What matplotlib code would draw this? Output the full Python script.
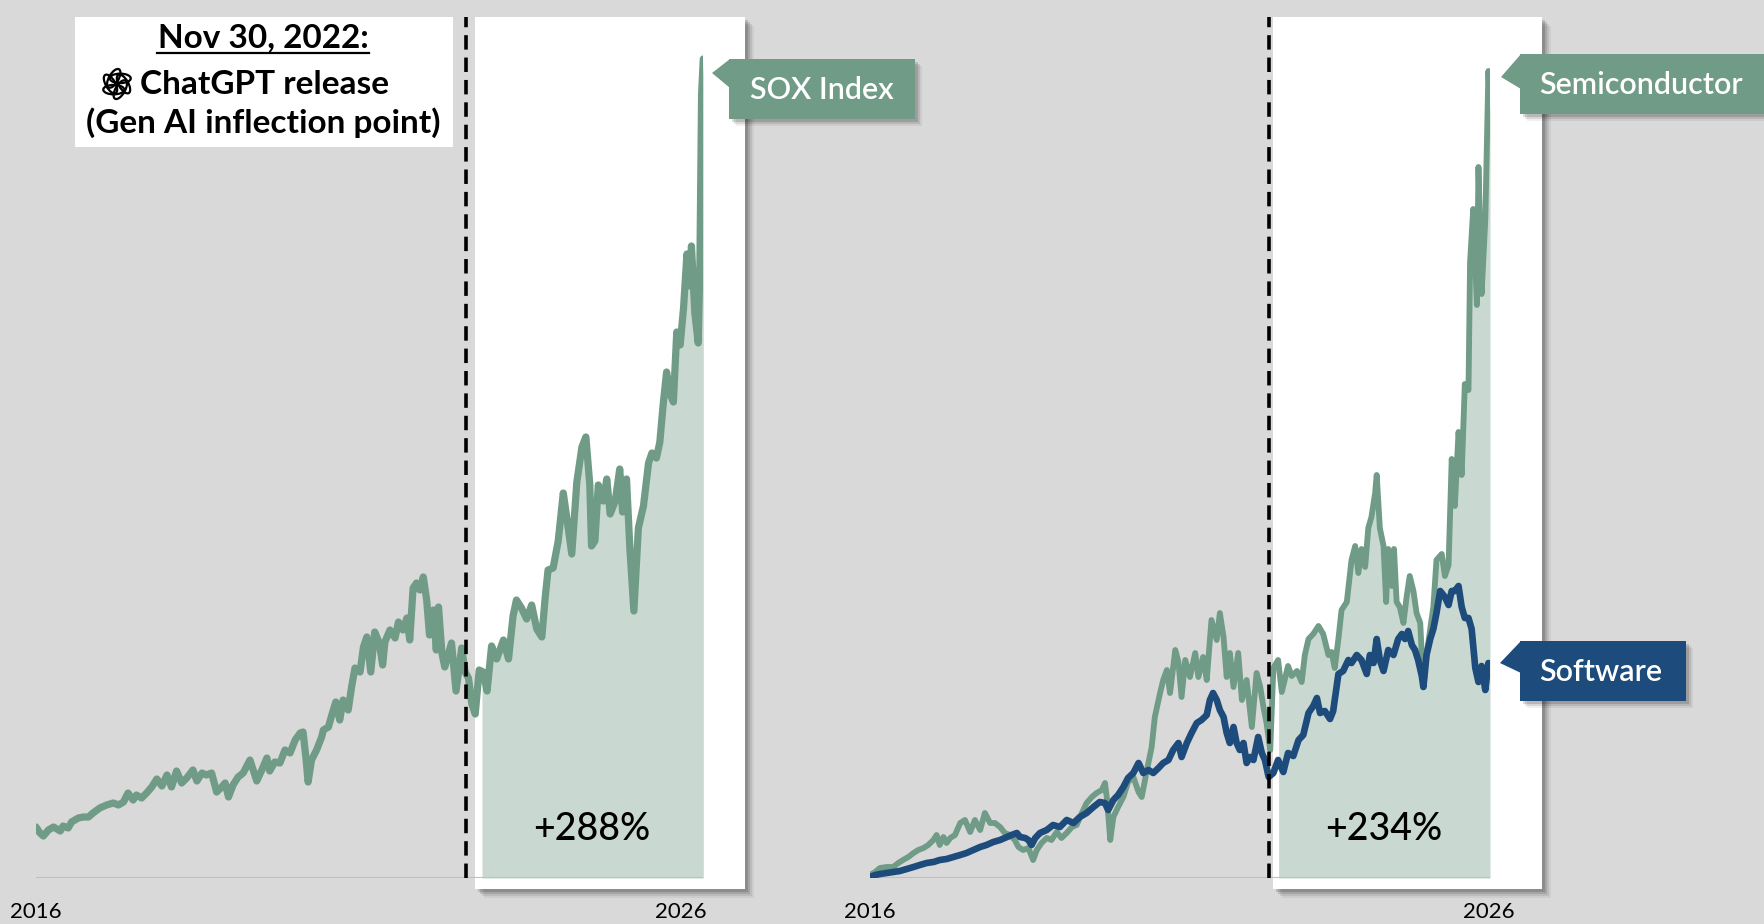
import numpy as np
import matplotlib
matplotlib.use("Agg")
import matplotlib.pyplot as plt
from matplotlib.patches import Rectangle, Polygon, Ellipse
from matplotlib import transforms

# x = position along the time axis (months from the 2016 start), y = index level (chart units)
sox_x = [0.0, 0.7, 1.3, 2.2, 3.1, 4.3, 4.8, 5.7, 6.3, 7.5, 8.4, 9.3, 10.1, 11.3, 12.5, 13.7, 14.6, 15.5, 16.3, 17.2,
         17.8, 18.7, 19.6, 20.5, 21.4, 22.3, 23.2, 24.0, 24.9, 25.8, 26.7, 27.8, 28.5, 29.4, 30.2, 31.1, 32.0, 32.9, 33.5, 34.1,
         34.9, 35.8, 36.7, 37.9, 39.1, 40.0, 40.9, 41.4, 42.3, 43.2, 44.1, 45.0, 45.9, 46.8, 47.3, 47.8, 48.2, 48.8, 49.7, 50.6,
         50.9, 51.8, 52.4, 53.1, 53.8, 54.4, 55.3, 55.9, 56.5, 57.4, 58.0, 58.6, 59.3, 60.0, 60.8, 61.4, 61.8, 62.7, 63.6, 64.2,
         65.0, 65.7, 66.2, 66.8, 67.4, 68.0, 68.6, 69.2, 69.7, 70.4, 70.9, 71.3, 71.9, 72.4, 73.6, 74.4, 75.4, 76.0, 76.6, 77.2,
         77.8, 78.5, 79.2, 79.9, 80.7, 81.6, 82.8, 83.7, 84.5, 85.1, 86.0, 86.9, 87.8, 88.7, 89.6, 90.2, 90.7, 91.6, 92.5, 93.4,
         94.0, 94.9, 95.8, 96.7, 97.4, 98.1, 98.4, 99.0, 99.6, 100.5, 101.1, 101.7, 102.6, 103.4, 103.9, 104.6, 105.2, 105.9, 106.7, 107.6,
         108.5, 109.1, 109.9, 110.5, 111.1, 111.7, 112.3, 112.9, 113.5, 114.1, 114.7, 115.3, 115.8, 116.1, 116.7, 117.3, 117.6, 117.9, 118.2]
sox_y = [51, 45, 42, 48, 51, 47, 52, 50, 56, 60, 61, 61, 65, 70, 73, 75, 73, 76, 85, 78,
         83, 80, 85, 91, 99, 92, 103, 91, 107, 95, 100, 108, 97, 105, 103, 105, 86, 91, 95, 81,
         93, 101, 105, 118, 97, 108, 120, 107, 116, 115, 128, 125, 138, 145, 146, 121, 96, 118, 128, 141,
         148, 151, 163, 176, 158, 178, 168, 191, 210, 206, 231, 241, 206, 246, 235, 213, 236, 248, 240, 256,
         248, 260, 238, 290, 295, 288, 301, 278, 243, 268, 228, 271, 225, 211, 235, 187, 230, 206, 200, 174,
         164, 208, 206, 187, 232, 219, 238, 219, 262, 278, 270, 259, 273, 249, 241, 281, 308, 310, 337, 385,
         361, 324, 396, 431, 441, 393, 332, 337, 393, 377, 399, 364, 377, 409, 366, 399, 329, 267, 350, 372,
         415, 425, 420, 436, 474, 506, 484, 476, 546, 533, 570, 624, 592, 632, 565, 535, 613, 784, 819]

semi_x = [0.0, 1.0, 1.9, 3.2, 4.4, 5.4, 6.3, 7.3, 8.3, 9.2, 10.2, 11.1, 12.1, 12.7, 13.3, 14.0, 14.6, 15.3, 16.2, 17.2,
          18.1, 19.1, 20.0, 21.0, 21.9, 22.9, 23.8, 24.8, 25.7, 26.7, 27.6, 28.3, 29.2, 30.2, 31.1, 31.8, 32.7, 33.7, 34.6, 35.6,
          36.5, 37.5, 38.5, 39.4, 40.4, 41.3, 42.3, 43.2, 44.2, 44.8, 45.2, 45.8, 46.4, 47.3, 48.3, 49.2, 50.2, 51.2, 51.8, 52.8,
          53.7, 54.3, 55.3, 55.9, 56.6, 57.2, 58.2, 58.8, 59.4, 60.1, 61.0, 62.0, 62.6, 63.5, 64.2, 65.1, 66.1, 66.7, 67.4, 68.0,
          68.6, 69.3, 70.2, 70.9, 71.8, 72.8, 73.7, 74.4, 75.0, 75.6, 76.3, 76.9, 77.8, 78.5, 79.1, 79.7, 80.4, 81.4, 82.3, 82.9,
          83.6, 84.5, 85.5, 86.4, 87.4, 88.0, 88.6, 89.3, 89.9, 90.9, 91.8, 92.5, 93.1, 93.7, 94.4, 95.0, 95.6, 96.3, 96.6, 97.2,
          97.9, 98.4, 98.8, 99.5, 99.9, 100.4, 101.0, 101.7, 102.3, 102.9, 103.6, 104.2, 104.9, 105.5, 106.1, 106.8, 107.4, 108.0, 109.0, 109.6,
          110.3, 110.9, 111.5, 112.2, 112.8, 113.4, 114.1, 114.4, 115.0, 115.7, 116.0, 116.6, 117.3, 117.9, 118.2]
semi_y = [3, 6, 10, 11, 11, 15, 18, 21, 25, 28, 30, 33, 38, 43, 33, 41, 35, 40, 43, 55,
          58, 46, 58, 48, 65, 55, 55, 51, 45, 43, 38, 31, 28, 30, 18, 28, 35, 40, 38, 46,
          40, 45, 51, 53, 65, 75, 81, 85, 88, 95, 78, 38, 61, 71, 81, 96, 101, 86, 81, 108,
          131, 161, 185, 198, 208, 185, 228, 216, 181, 218, 201, 225, 201, 221, 198, 258, 238, 265, 241, 201,
          225, 191, 225, 178, 198, 151, 205, 191, 171, 155, 128, 210, 218, 186, 199, 212, 202, 207, 196, 223,
          239, 244, 252, 244, 223, 226, 210, 239, 268, 276, 318, 332, 305, 329, 311, 350, 361, 385, 403, 350,
          332, 276, 329, 292, 329, 276, 271, 255, 281, 302, 287, 265, 255, 191, 223, 249, 271, 318, 324, 302,
          313, 419, 372, 446, 403, 494, 488, 616, 669, 573, 711, 584, 658, 807, 764]

soft_x = [0.0, 1.0, 1.9, 3.2, 4.4, 5.7, 7.0, 8.3, 9.5, 10.8, 12.1, 13.3, 14.6, 15.9, 17.2, 18.4, 19.7, 21.0, 22.2, 23.5,
          24.8, 26.1, 27.0, 28.0, 28.6, 29.6, 30.2, 30.8, 31.5, 32.4, 33.7, 34.9, 36.2, 37.5, 38.8, 40.0, 41.3, 42.6, 43.8, 44.8,
          45.4, 46.4, 47.3, 48.3, 49.2, 50.2, 51.2, 52.1, 53.1, 54.0, 55.0, 55.9, 56.9, 57.8, 58.8, 59.4, 60.4, 61.3, 62.3, 63.2,
          64.2, 64.8, 65.4, 66.1, 66.7, 67.4, 68.0, 68.6, 69.3, 69.9, 70.5, 71.2, 71.8, 72.4, 73.1, 74.0, 74.7, 75.3, 76.0, 76.9,
          77.8, 78.8, 79.7, 80.7, 81.7, 82.6, 83.6, 84.5, 85.2, 85.8, 86.7, 87.7, 88.3, 89.3, 90.2, 91.2, 91.8, 92.8, 93.7, 94.7,
          95.3, 96.0, 96.6, 97.2, 97.9, 98.8, 99.8, 100.7, 101.4, 102.0, 102.6, 103.3, 103.9, 104.5, 105.2, 105.5, 106.1, 106.8, 107.4, 108.0,
          108.7, 109.6, 110.3, 110.9, 111.5, 112.2, 112.8, 113.4, 114.1, 114.7, 115.4, 116.0, 116.6, 117.3, 117.9, 118.2]
soft_y = [1, 3, 4, 5, 6, 7, 9, 11, 13, 15, 16, 18, 19, 21, 23, 25, 28, 31, 33, 36,
          38, 41, 43, 45, 41, 40, 38, 33, 40, 45, 48, 53, 51, 58, 55, 61, 65, 71, 76, 75,
          68, 78, 83, 91, 100, 105, 115, 105, 108, 105, 110, 115, 118, 128, 135, 121, 135, 145, 155, 158,
          163, 178, 185, 178, 168, 161, 145, 135, 151, 135, 128, 135, 115, 121, 118, 141, 125, 118, 101, 105,
          118, 106, 125, 122, 138, 143, 165, 172, 180, 165, 167, 159, 167, 204, 207, 218, 215, 223, 218, 204,
          223, 215, 239, 218, 207, 228, 223, 239, 244, 239, 247, 233, 228, 218, 202, 191, 223, 239, 249, 265,
          287, 281, 273, 287, 287, 292, 271, 260, 260, 249, 210, 196, 212, 188, 215, 210]

release_pos = 76.1          # Nov 30, 2022 marker
tick_labels = ["2016", "2026"]
left_ticks = [0.0, 114.3]
right_ticks = [0.0, 117.9]
left_gain = "+288%"
right_gain = "+234%"

GREEN = "#6f9b87"
FILL = "#c9d9d1"
BLUE = "#1d4b7b"
BG = "#d9d9d9"
FONT = ["Lato", "DejaVu Sans"]

W, H = 1765, 924
fig = plt.figure(figsize=(W / 100, H / 100), dpi=100, facecolor=BG)


def add_panel(left_px, width_px, xmax, box_x0, box_x1, ticks):
    ax = fig.add_axes([left_px / W, 46 / H, width_px / W, 861 / H])
    ax.set_xlim(0, xmax)
    ax.set_ylim(0, 861)
    ax.patch.set_alpha(0)
    for s in ax.spines.values():
        s.set_visible(False)
    ax.set_yticks([])
    ax.set_xticks(ticks)
    ax.set_xticklabels(tick_labels, fontsize=16, family=FONT)
    ax.tick_params(axis="x", length=0, pad=17, colors="black")
    # highlighted period box with soft shadow
    for off, a in [(9, 0.05), (7, 0.08), (5, 0.12), (3, 0.15)]:
        tr = transforms.offset_copy(ax.transData, fig=fig, x=off, y=-off, units="dots")
        ax.add_patch(Rectangle((box_x0, -11), box_x1 - box_x0, 872, transform=tr,
                               facecolor="black", alpha=a, edgecolor="none", clip_on=False, zorder=0.2))
    ax.add_patch(Rectangle((box_x0, -11), box_x1 - box_x0, 872, facecolor="white",
                           edgecolor="none", clip_on=False, zorder=0.5))
    ax.axhline(0, color="#bfbfbf", lw=1.5, zorder=1.5)
    ax.axvline(release_pos, ymin=0.0, ymax=1.0, color="black", lw=2.6,
               dashes=(4, 2.2), zorder=4)
    return ax


def fill_after(ax, xs, ys, x0):
    xs = np.asarray(xs, float)
    ys = np.asarray(ys, float)
    keep = xs > x0
    fx = np.concatenate([[x0], xs[keep]])
    fy = np.concatenate([[np.interp(x0, xs, ys)], ys[keep]])
    ax.fill_between(fx, 0, fy, color=FILL, lw=0, zorder=1)


line_kw = dict(solid_joinstyle="round", solid_capstyle="round")

# left panel: SOX index
axL = add_panel(36, 667.3, 118.2, 77.8, 125.6, left_ticks)
fill_after(axL, sox_x, sox_y, 79.0)
axL.plot(sox_x, sox_y, color=GREEN, lw=5.2, zorder=3, **line_kw)
axL.text(98.5, 48, left_gain, ha="center", va="center", fontsize=27, family=FONT, fontweight="medium")

# right panel: semiconductor vs software
axR = add_panel(870, 620, 118.2, 76.8, 128.1, right_ticks)
fill_after(axR, semi_x, semi_y, 77.9)
axR.plot(semi_x, semi_y, color=GREEN, lw=4.2, zorder=3, **line_kw)
axR.plot(soft_x, soft_y, color=BLUE, lw=4.8, zorder=3.2, **line_kw)
axR.text(97.9, 48, right_gain, ha="center", va="center", fontsize=27, family=FONT, fontweight="medium")

# overlay in pixel coordinates for callouts
ov = fig.add_axes([0, 0, 1, 1], zorder=5)
ov.set_xlim(0, W)
ov.set_ylim(H, 0)
ov.axis("off")
ov.patch.set_alpha(0)

# release note box
ov.add_patch(Rectangle((75, 17), 378, 130, facecolor="white", edgecolor="none"))
ov.text(263, 38, "Nov 30, 2022:", ha="center", va="center", fontsize=24, family=FONT, fontweight="bold")
ov.plot([157, 369], [53, 53], color="black", lw=1.6)
# ChatGPT logo (no installed font has a glyph for it), drawn as interlaced loops
for k in range(6):
    a = np.deg2rad(k * 60)
    ov.add_patch(Ellipse((117 + 6.5 * np.cos(a), 84 + 6.5 * np.sin(a)), 21, 9.5,
                         angle=k * 60 + 60, facecolor="none", edgecolor="black", lw=1.6))
ov.text(140, 84, "ChatGPT release", ha="left", va="center", fontsize=24, family=FONT, fontweight="bold")
ov.text(263, 123, "(Gen AI inflection point)", ha="center", va="center", fontsize=24, family=FONT, fontweight="bold")


def callout(x0, y0, x1, y1, tip, base_y, text, tx, color):
    for off, a in [(7, 0.06), (5, 0.1), (3, 0.14)]:
        ov.add_patch(Rectangle((x0 + off, y0 + off), x1 - x0, y1 - y0, facecolor="black",
                               alpha=a, edgecolor="none"))
    ov.add_patch(Rectangle((x0, y0), x1 - x0, y1 - y0, facecolor=color, edgecolor="none"))
    ov.add_patch(Polygon([(x0 + 1, y0), tip, (x0 + 1, base_y)], closed=True,
                         facecolor=color, edgecolor="none"))
    ov.text(tx, (y0 + y1) / 2 + 1, text, ha="center", va="center",
            color="white", fontsize=22, family=FONT, fontweight="semibold")


callout(729, 59, 915, 119, (712, 73), 88, "SOX Index", 822, GREEN)
callout(1520, 54, 1780, 114, (1501, 77), 89, "Semiconductor", 1641, GREEN)
callout(1520, 641, 1686, 701, (1500, 663), 673, "Software", 1601, BLUE)

fig.savefig("out.png", dpi=100, facecolor=BG)
